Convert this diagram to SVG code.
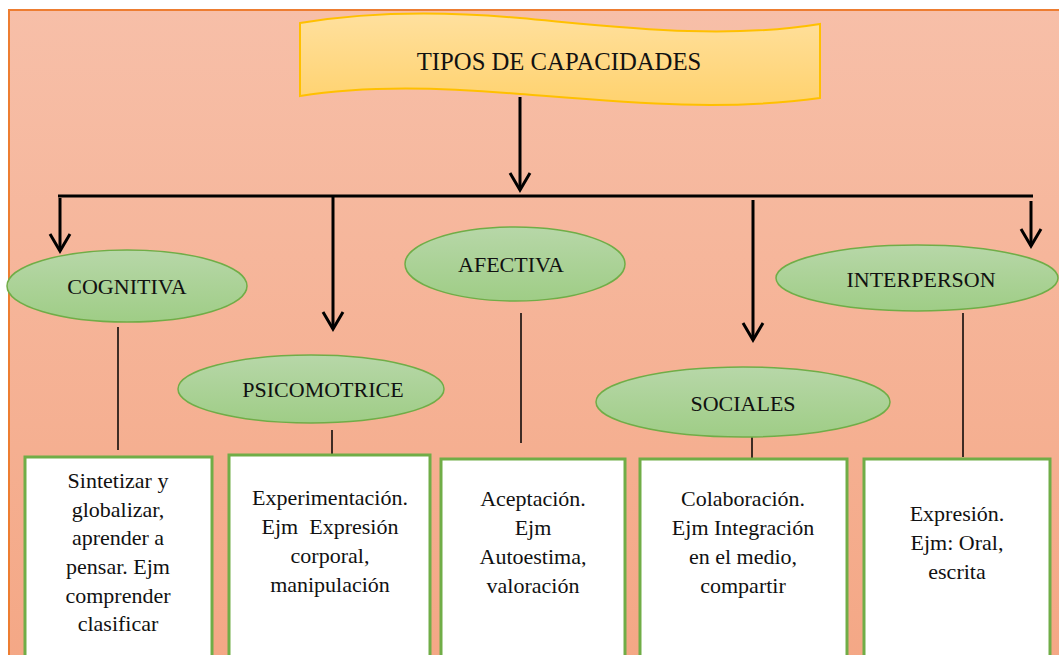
<svg xmlns="http://www.w3.org/2000/svg" width="1059" height="655" viewBox="0 0 1059 655">
<defs>
<linearGradient id="bg" x1="0" y1="0" x2="0" y2="1"><stop offset="0" stop-color="#F7BFA8"/><stop offset="1" stop-color="#F4A785"/></linearGradient>
<linearGradient id="ban" x1="0" y1="0" x2="0" y2="1"><stop offset="0" stop-color="#FFE09E"/><stop offset="1" stop-color="#FFD26E"/></linearGradient>
<linearGradient id="ell" x1="0" y1="0" x2="0" y2="1"><stop offset="0" stop-color="#B7D7A8"/><stop offset="1" stop-color="#9FCD86"/></linearGradient>
<marker id="v" viewBox="-20 -12 22 24" refX="0" refY="0" markerWidth="22" markerHeight="24" markerUnits="userSpaceOnUse" orient="auto" overflow="visible">
<path d="M-17,-10 L0,0 L-17,10" fill="none" stroke="#000" stroke-width="3"/>
</marker>
</defs>
<style>
.t{font-family:"Liberation Serif","DejaVu Serif",serif;fill:#111;text-anchor:middle}
.e{fill:url(#ell);stroke:#70AD47;stroke-width:1.5}
.b{fill:#fff;stroke:#70AD47;stroke-width:3}
.a{stroke:#000;stroke-width:3;fill:none}
.l{stroke:#000;stroke-width:1.5;fill:none}
.et{font-size:22px}
.bt{font-size:22px}
</style>
<rect x="9" y="10" width="1060" height="660" fill="url(#bg)" stroke="#ED7D31" stroke-width="2"/>
<g id="title">
<path d="M300,23 C360,13 430,10 520,18 C620,27 720,40 820,24 L820,98 C720,112 620,102 520,94 C430,86 360,86 300,96 Z" fill="url(#ban)" stroke="#FFC000" stroke-width="2"/>
<text class="t" x="559" y="70" font-size="24.7">TIPOS DE CAPACIDADES</text>
</g>
<g id="connectors">
<line class="a" x1="520" y1="97" x2="520" y2="190" marker-end="url(#v)"/>
<line class="a" x1="58" y1="196" x2="1033" y2="196"/>
<line class="a" x1="60" y1="198" x2="60" y2="251" marker-end="url(#v)"/>
<line class="a" x1="333" y1="196" x2="333" y2="329" marker-end="url(#v)"/>
<line class="a" x1="753" y1="200" x2="753" y2="340" marker-end="url(#v)"/>
<line class="a" x1="1031" y1="201" x2="1031" y2="246" marker-end="url(#v)"/>
<line class="l" x1="118" y1="327" x2="118" y2="450"/>
<line class="l" x1="332" y1="430" x2="332" y2="462"/>
<line class="l" x1="521" y1="313" x2="521" y2="443"/>
<line class="l" x1="752" y1="436" x2="752" y2="463"/>
<line class="l" x1="963" y1="313" x2="963" y2="457"/>
</g>
<g id="cognitiva">
<ellipse class="e" cx="127" cy="286" rx="120" ry="36"/>
<text class="t et" x="127" y="294">COGNITIVA</text>
</g>
<g id="afectiva">
<ellipse class="e" cx="515" cy="264" rx="110" ry="37"/>
<text class="t et" x="511" y="272">AFECTIVA</text>
</g>
<g id="interperson">
<ellipse class="e" cx="917" cy="278" rx="141" ry="33"/>
<text class="t et" x="921" y="287">INTERPERSON</text>
</g>
<g id="psicomotrice">
<ellipse class="e" cx="311" cy="389" rx="133" ry="34"/>
<text class="t et" x="323" y="397">PSICOMOTRICE</text>
</g>
<g id="sociales">
<ellipse class="e" cx="743" cy="402" rx="147" ry="35"/>
<text class="t et" x="743" y="411">SOCIALES</text>
</g>
<g id="box-cognitiva">
<rect class="b" x="25" y="457" width="187" height="210"/>
<text class="t bt"><tspan x="118" y="488">Sintetizar y</tspan><tspan x="118" y="517">globalizar,</tspan><tspan x="118" y="545">aprender a</tspan><tspan x="118" y="574">pensar. Ejm</tspan><tspan x="118" y="603">comprender</tspan><tspan x="118" y="631">clasificar</tspan></text>
</g>
<g id="box-psicomotrice">
<rect class="b" x="229" y="455" width="201" height="210"/>
<text class="t bt"><tspan x="330" y="505">Experimentación.</tspan><tspan x="330" y="534" xml:space="preserve">Ejm  Expresión</tspan><tspan x="330" y="563">corporal,</tspan><tspan x="330" y="592">manipulación</tspan></text>
</g>
<g id="box-afectiva">
<rect class="b" x="441" y="459" width="184" height="210"/>
<text class="t bt"><tspan x="533" y="506">Aceptación.</tspan><tspan x="533" y="535">Ejm</tspan><tspan x="533" y="564">Autoestima,</tspan><tspan x="533" y="593">valoración</tspan></text>
</g>
<g id="box-sociales">
<rect class="b" x="640" y="459" width="207" height="210"/>
<text class="t bt"><tspan x="743" y="506">Colaboración.</tspan><tspan x="743" y="535">Ejm Integración</tspan><tspan x="743" y="564">en el medio,</tspan><tspan x="743" y="593">compartir</tspan></text>
</g>
<g id="box-interperson">
<rect class="b" x="864" y="459" width="186" height="210"/>
<text class="t bt"><tspan x="957" y="521">Expresión.</tspan><tspan x="957" y="550">Ejm: Oral,</tspan><tspan x="957" y="579">escrita</tspan></text>
</g>
</svg>
